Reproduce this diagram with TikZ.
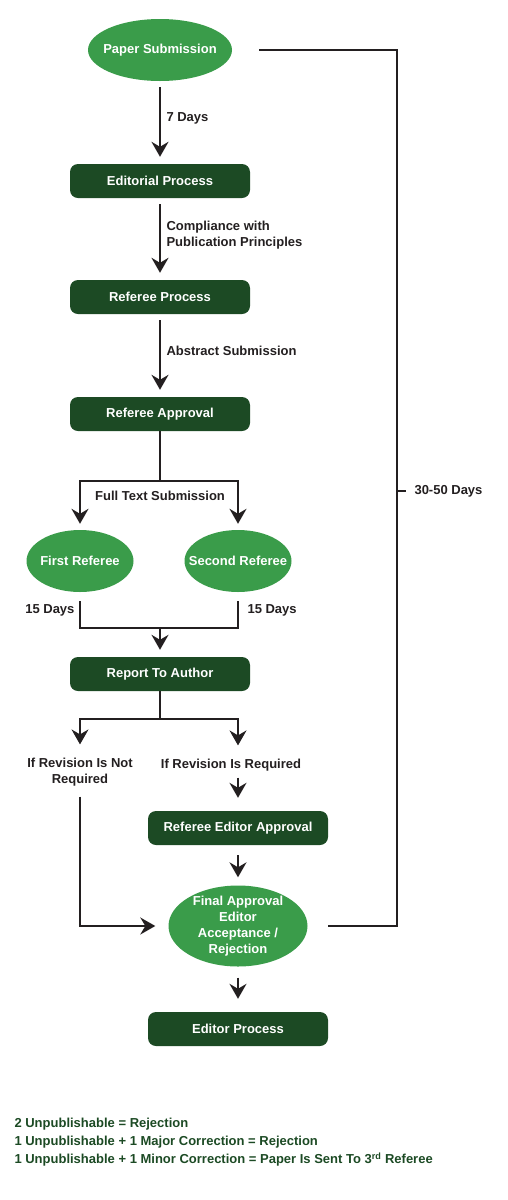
\documentclass[tikz,border=0pt]{standalone}
\usepackage{fontspec}
\setmainfont{Liberation Sans}
\usetikzlibrary{shapes.geometric,arrows.meta}
\definecolor{lightgreen}{HTML}{3A9C4A}
\definecolor{darkgreen}{HTML}{1C4A24}
\definecolor{ink}{HTML}{231F20}
\begin{document}
\begin{tikzpicture}[x=1pt,y=1pt]
\tikzstyle{every node}+=[font=\fontsize{13}{16}\selectfont\bfseries]
\tikzstyle{oval}=[ellipse, fill=lightgreen, text=white, inner sep=0pt, align=center]
\tikzstyle{box}=[rectangle, rounded corners=8pt, fill=darkgreen, text=white, minimum width=180pt, minimum height=34pt]
\tikzstyle{line}=[ink, line width=1.8pt]
\tikzstyle{arr}=[line, -{Stealth[length=15pt,width=17pt,inset=5pt]}]
\tikzstyle{lbl}=[text=ink, align=left]
\tikzstyle{note}=[text=darkgreen, align=left, font=\fontsize{13}{18}\selectfont\bfseries]
\useasboundingbox (0,0) rectangle (508,-1200);
% main column
\node [oval, inner xsep=-8pt, minimum width=144pt, minimum height=62pt] (paper) at (160,-50) {Paper Submission};
\node [box] (edit) at (160,-181) {Editorial Process};
\node [box] (refproc) at (160,-297) {Referee Process};
\node [box] (refappr) at (160,-414) {Referee Approval};
\coordinate (split1) at (160,-481);
\node [oval, inner xsep=-13pt, minimum width=107pt, minimum height=62pt] (ref1) at (80,-561) {First Referee};
\node [oval, inner xsep=-13pt, minimum width=107pt, minimum height=62pt] (ref2) at (238,-561) {Second Referee};
\coordinate (join1) at (160,-628);
\node [box] (report) at (160,-674) {Report To Author};
\coordinate (split2) at (160,-719);
\node [lbl, align=center] (norev) at (80,-772) {If Revision Is Not\\Required};
\node [lbl] (rev) at (231,-765) {If Revision Is Required};
\node [box] (refed) at (238,-828) {Referee Editor Approval};
\node [oval, minimum width=139pt, minimum height=81pt, inner ysep=-6pt] (final) at (238,-926)
  {Final Approval\\Editor\\Acceptance /\\Rejection};
\node [box] (editor) at (238,-1029) {Editor Process};
\coordinate (tick) at (397,-491);
% labels
\node [lbl, anchor=west] (d7) at (163,-118) {7 Days};
\node [lbl, anchor=west] (compl) at (163,-235) {Compliance with\\Publication Principles};
\node [lbl, anchor=west] (abstr) at (163,-351) {Abstract Submission};
\node [lbl] (fulltext) at (160,-496) {Full Text Submission};
\node [lbl, anchor=east] (d15a) at (78,-610) {15 Days};
\node [lbl, anchor=west] (d15b) at (244,-610) {15 Days};
\node [lbl, anchor=west] (d3050) at (411,-491) {30-50 Days};
% connectors
\draw [arr, shorten <=6pt, shorten >=7pt] (paper) -- (edit);
\draw [arr, shorten <=6pt, shorten >=7pt] (edit) -- (refproc);
\draw [arr, shorten <=6pt, shorten >=7pt] (refproc) -- (refappr);
\draw [line] (refappr) -- (split1);
\draw [arr, shorten >=6pt] (split1) -| (ref1);
\draw [arr, shorten >=6pt] (split1) -| (ref2);
\draw [line, shorten <=9pt] (ref1) |- (join1);
\draw [line, shorten <=9pt] (ref2) |- (join1);
\draw [arr, shorten >=7pt] (join1) -- (report);
\draw [line] (report) -- (split2);
\draw [arr, shorten >=10pt] (split2) -| (norev.north);
\draw [arr, shorten >=10pt] (split2) -| (rev.north -| refed.north);
\draw [arr, shorten <=3pt, shorten >=13pt] (rev.south -| refed.north) -- (refed);
\draw [arr, shorten <=10pt, shorten >=8pt] (refed) -- (final);
\draw [arr, shorten <=7pt, shorten >=13pt] (norev.south) |- (final.west);
\draw [arr, shorten <=11pt, shorten >=13pt] (final) -- (editor);
\draw [line, shorten <=27pt, shorten >=20pt] (paper.east) -| (tick) |- (final.east);
\draw [line, shorten >=5pt] (tick) -- (d3050.west);
% notes
\node [note, anchor=west] (rules) at (11,-1142) {2 Unpublishable = Rejection\\
  1 Unpublishable + 1 Major Correction = Rejection\\
  1 Unpublishable + 1 Minor Correction = Paper Is Sent To 3\textsuperscript{rd} Referee};
\end{tikzpicture}
\end{document}
